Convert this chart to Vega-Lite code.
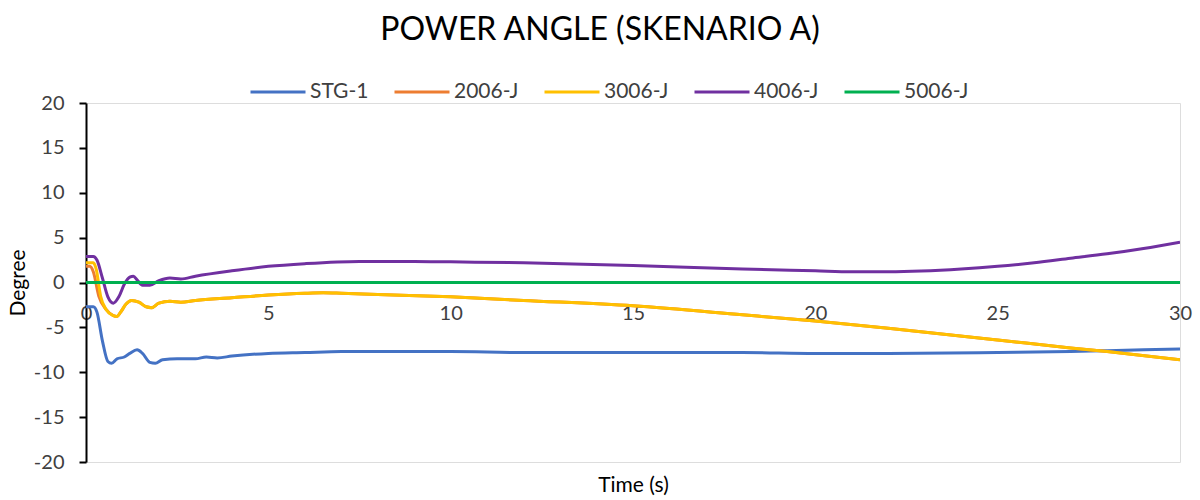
{
  "$schema": "https://vega.github.io/schema/vega-lite/v6.json",
  "width": 1094,
  "height": 359,
  "autosize": {"type": "none"},
  "padding": {"left": 86, "top": 103, "right": 20, "bottom": 38},
  "background": "white",
  "title": {
    "text": "POWER ANGLE (SKENARIO A)",
    "font": "Lato",
    "fontSize": 32,
    "fontWeight": "normal",
    "color": "#000000",
    "anchor": "middle",
    "frame": "group",
    "dx": -33,
    "offset": 16
  },
  "data": {
    "values": [
      {"s": "STG-1", "t": 0, "v": -2.7},
      {"s": "STG-1", "t": 0.2, "v": -2.7},
      {"s": "STG-1", "t": 0.3, "v": -3.3},
      {"s": "STG-1", "t": 0.45, "v": -6.5},
      {"s": "STG-1", "t": 0.6, "v": -8.8},
      {"s": "STG-1", "t": 0.7, "v": -9.0},
      {"s": "STG-1", "t": 0.85, "v": -8.5},
      {"s": "STG-1", "t": 1.05, "v": -8.3},
      {"s": "STG-1", "t": 1.2, "v": -7.9},
      {"s": "STG-1", "t": 1.4, "v": -7.5},
      {"s": "STG-1", "t": 1.55, "v": -7.9},
      {"s": "STG-1", "t": 1.75, "v": -8.9},
      {"s": "STG-1", "t": 1.9, "v": -9.0},
      {"s": "STG-1", "t": 2.1, "v": -8.6},
      {"s": "STG-1", "t": 2.5, "v": -8.5},
      {"s": "STG-1", "t": 3, "v": -8.5},
      {"s": "STG-1", "t": 3.3, "v": -8.3},
      {"s": "STG-1", "t": 3.6, "v": -8.4},
      {"s": "STG-1", "t": 4, "v": -8.2},
      {"s": "STG-1", "t": 5, "v": -7.9},
      {"s": "STG-1", "t": 6, "v": -7.8},
      {"s": "STG-1", "t": 7, "v": -7.7},
      {"s": "STG-1", "t": 10, "v": -7.7},
      {"s": "STG-1", "t": 12, "v": -7.8},
      {"s": "STG-1", "t": 15, "v": -7.8},
      {"s": "STG-1", "t": 18, "v": -7.8},
      {"s": "STG-1", "t": 20, "v": -7.9},
      {"s": "STG-1", "t": 22, "v": -7.9},
      {"s": "STG-1", "t": 25, "v": -7.8},
      {"s": "STG-1", "t": 27, "v": -7.7},
      {"s": "STG-1", "t": 28, "v": -7.6},
      {"s": "STG-1", "t": 30, "v": -7.4},

      {"s": "2006-J", "t": 0, "v": 1.8},
      {"s": "2006-J", "t": 0.1, "v": 1.8},
      {"s": "2006-J", "t": 0.2, "v": 1.2},
      {"s": "2006-J", "t": 0.35, "v": -1.5},
      {"s": "2006-J", "t": 0.55, "v": -3.0},
      {"s": "2006-J", "t": 0.75, "v": -3.7},
      {"s": "2006-J", "t": 0.85, "v": -3.8},
      {"s": "2006-J", "t": 0.95, "v": -3.3},
      {"s": "2006-J", "t": 1.1, "v": -2.4},
      {"s": "2006-J", "t": 1.25, "v": -2.0},
      {"s": "2006-J", "t": 1.45, "v": -2.2},
      {"s": "2006-J", "t": 1.65, "v": -2.7},
      {"s": "2006-J", "t": 1.8, "v": -2.8},
      {"s": "2006-J", "t": 2.0, "v": -2.3},
      {"s": "2006-J", "t": 2.3, "v": -2.1},
      {"s": "2006-J", "t": 2.6, "v": -2.2},
      {"s": "2006-J", "t": 3, "v": -2.0},
      {"s": "2006-J", "t": 4, "v": -1.7},
      {"s": "2006-J", "t": 5, "v": -1.4},
      {"s": "2006-J", "t": 6, "v": -1.2},
      {"s": "2006-J", "t": 6.5, "v": -1.15},
      {"s": "2006-J", "t": 7, "v": -1.2},
      {"s": "2006-J", "t": 8, "v": -1.35},
      {"s": "2006-J", "t": 10, "v": -1.6},
      {"s": "2006-J", "t": 12, "v": -2.0},
      {"s": "2006-J", "t": 15, "v": -2.6},
      {"s": "2006-J", "t": 18, "v": -3.6},
      {"s": "2006-J", "t": 20, "v": -4.3},
      {"s": "2006-J", "t": 22, "v": -5.1},
      {"s": "2006-J", "t": 25, "v": -6.4},
      {"s": "2006-J", "t": 27, "v": -7.3},
      {"s": "2006-J", "t": 28, "v": -7.7},
      {"s": "2006-J", "t": 30, "v": -8.6},

      {"s": "3006-J", "t": 0, "v": 2.2},
      {"s": "3006-J", "t": 0.2, "v": 2.2},
      {"s": "3006-J", "t": 0.28, "v": 1.5},
      {"s": "3006-J", "t": 0.4, "v": -1.5},
      {"s": "3006-J", "t": 0.55, "v": -3.0},
      {"s": "3006-J", "t": 0.75, "v": -3.7},
      {"s": "3006-J", "t": 0.85, "v": -3.8},
      {"s": "3006-J", "t": 0.95, "v": -3.3},
      {"s": "3006-J", "t": 1.1, "v": -2.4},
      {"s": "3006-J", "t": 1.25, "v": -2.0},
      {"s": "3006-J", "t": 1.45, "v": -2.2},
      {"s": "3006-J", "t": 1.65, "v": -2.7},
      {"s": "3006-J", "t": 1.8, "v": -2.8},
      {"s": "3006-J", "t": 2.0, "v": -2.3},
      {"s": "3006-J", "t": 2.3, "v": -2.1},
      {"s": "3006-J", "t": 2.6, "v": -2.2},
      {"s": "3006-J", "t": 3, "v": -2.0},
      {"s": "3006-J", "t": 4, "v": -1.7},
      {"s": "3006-J", "t": 5, "v": -1.4},
      {"s": "3006-J", "t": 6, "v": -1.2},
      {"s": "3006-J", "t": 6.5, "v": -1.15},
      {"s": "3006-J", "t": 7, "v": -1.2},
      {"s": "3006-J", "t": 8, "v": -1.35},
      {"s": "3006-J", "t": 10, "v": -1.6},
      {"s": "3006-J", "t": 12, "v": -2.0},
      {"s": "3006-J", "t": 15, "v": -2.6},
      {"s": "3006-J", "t": 18, "v": -3.6},
      {"s": "3006-J", "t": 20, "v": -4.3},
      {"s": "3006-J", "t": 22, "v": -5.1},
      {"s": "3006-J", "t": 25, "v": -6.4},
      {"s": "3006-J", "t": 27, "v": -7.3},
      {"s": "3006-J", "t": 28, "v": -7.7},
      {"s": "3006-J", "t": 30, "v": -8.6},

      {"s": "4006-J", "t": 0, "v": 2.9},
      {"s": "4006-J", "t": 0.2, "v": 2.9},
      {"s": "4006-J", "t": 0.3, "v": 2.5},
      {"s": "4006-J", "t": 0.45, "v": 0.5},
      {"s": "4006-J", "t": 0.6, "v": -1.6},
      {"s": "4006-J", "t": 0.75, "v": -2.3},
      {"s": "4006-J", "t": 0.9, "v": -1.6},
      {"s": "4006-J", "t": 1.05, "v": -0.2},
      {"s": "4006-J", "t": 1.2, "v": 0.6},
      {"s": "4006-J", "t": 1.3, "v": 0.7},
      {"s": "4006-J", "t": 1.4, "v": 0.3},
      {"s": "4006-J", "t": 1.55, "v": -0.3},
      {"s": "4006-J", "t": 1.75, "v": -0.3},
      {"s": "4006-J", "t": 2.0, "v": 0.2},
      {"s": "4006-J", "t": 2.3, "v": 0.5},
      {"s": "4006-J", "t": 2.6, "v": 0.4},
      {"s": "4006-J", "t": 3, "v": 0.7},
      {"s": "4006-J", "t": 4, "v": 1.3},
      {"s": "4006-J", "t": 5, "v": 1.8},
      {"s": "4006-J", "t": 6, "v": 2.1},
      {"s": "4006-J", "t": 7.5, "v": 2.35},
      {"s": "4006-J", "t": 9, "v": 2.35},
      {"s": "4006-J", "t": 10, "v": 2.3},
      {"s": "4006-J", "t": 12, "v": 2.2},
      {"s": "4006-J", "t": 15, "v": 1.9},
      {"s": "4006-J", "t": 18, "v": 1.5},
      {"s": "4006-J", "t": 20, "v": 1.3},
      {"s": "4006-J", "t": 21, "v": 1.2},
      {"s": "4006-J", "t": 22, "v": 1.2},
      {"s": "4006-J", "t": 24, "v": 1.5},
      {"s": "4006-J", "t": 25, "v": 1.8},
      {"s": "4006-J", "t": 26, "v": 2.2},
      {"s": "4006-J", "t": 27, "v": 2.7},
      {"s": "4006-J", "t": 28, "v": 3.2},
      {"s": "4006-J", "t": 29, "v": 3.8},
      {"s": "4006-J", "t": 30, "v": 4.5},

      {"s": "5006-J", "t": 0, "v": 0},
      {"s": "5006-J", "t": 10, "v": 0},
      {"s": "5006-J", "t": 20, "v": 0},
      {"s": "5006-J", "t": 30, "v": 0}
    ]
  },
  "mark": {"type": "line", "strokeWidth": 3, "interpolate": "monotone", "clip": true},
  "encoding": {
    "x": {
      "field": "t",
      "type": "quantitative",
      "scale": {"domain": [0, 30], "nice": false, "zero": false},
      "axis": {
        "title": "Time (s)",
        "values": [0, 5, 10, 15, 20, 25, 30],
        "offset": -179.5,
        "domain": false,
        "ticks": false,
        "grid": false,
        "labelPadding": 21,
        "labelFont": "Lato",
        "labelFontSize": 20,
        "labelColor": "#404040",
        "labelFlush": false,
        "titleFont": "Lato",
        "titleFontSize": 21,
        "titleFontWeight": "normal",
        "titleColor": "#000000",
        "titleBaseline": "middle",
        "titleY": 203
      }
    },
    "y": {
      "field": "v",
      "type": "quantitative",
      "scale": {"domain": [-20, 20], "nice": false},
      "axis": {
        "title": "Degree",
        "values": [-20, -15, -10, -5, 0, 5, 10, 15, 20],
        "labelExpr": "replace(datum.label, '\u2212', '-')",
        "grid": false,
        "domainColor": "#000000",
        "domainWidth": 2,
        "tickColor": "#000000",
        "tickWidth": 2,
        "tickSize": 7,
        "labelPadding": 15,
        "labelFont": "Lato",
        "labelFontSize": 20,
        "labelColor": "#404040",
        "labelFlush": false,
        "titleFont": "Lato",
        "titleFontSize": 21,
        "titleFontWeight": "normal",
        "titleColor": "#000000",
        "titleX": -68,
        "titleBaseline": "middle"
      }
    },
    "color": {
      "field": "s",
      "type": "nominal",
      "sort": ["STG-1", "2006-J", "3006-J", "4006-J", "5006-J"],
      "scale": {
        "domain": ["STG-1", "2006-J", "3006-J", "4006-J", "5006-J"],
        "range": ["#4472C4", "#ED7D31", "#FFC000", "#7030A0", "#00B050"]
      },
      "legend": {
        "title": null,
        "orient": "none",
        "direction": "horizontal",
        "legendX": 163,
        "legendY": -40,
        "symbolType": "stroke",
        "symbolSize": 3025,
        "symbolStrokeWidth": 3,
        "labelFont": "Lato",
        "labelFontSize": 21,
        "labelColor": "#404040",
        "labelOffset": 3,
        "columnPadding": 19
      }
    }
  }
}
